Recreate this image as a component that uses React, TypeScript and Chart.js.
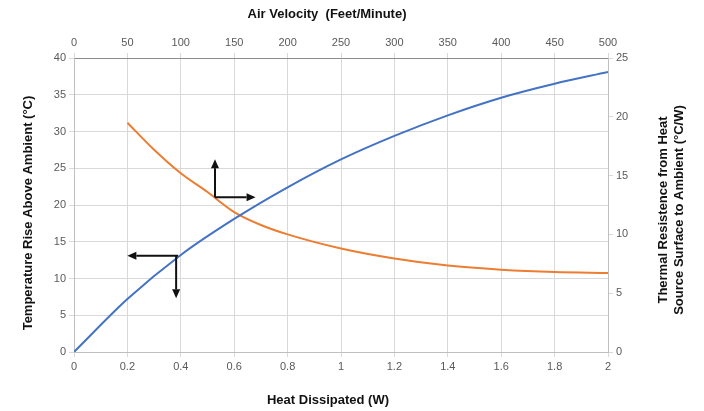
import React, { useEffect, useRef } from "react";
import { Chart, registerables } from "chart.js";

Chart.register(...registerables);

// Heat dissipated (W) vs temperature rise (°C) — bottom/left axes
const heatW = [0, 0.2, 0.4, 0.6, 0.8, 1.0, 1.2, 1.4, 1.6, 1.8, 2.0];
const tempRise = [0, 7.2, 13.2, 18.1, 22.4, 26.2, 29.4, 32.2, 34.6, 36.5, 38.1];

// Air velocity (ft/min) vs thermal resistance (°C/W) — top/right axes
const airVel = [50, 75, 100, 125, 150, 175, 200, 250, 300, 350, 400, 450, 500];
const thermalRes = [19.5, 17.2, 15.2, 13.6, 11.9, 10.8, 10.0, 8.8, 7.95, 7.35, 7.0, 6.8, 6.72];

const bottomTitle = "Heat Dissipated (W)";
const topTitle = "Air Velocity  (Feet/Minute)";
const leftTitle = "Temperature Rise Above Ambient (°C)";
const rightTitle = ["Thermal Resistence from Heat", "Source Surface to Ambient (°C/W)"];

// Annotation arrows: corner point and tips, in data coordinates
const arrowLeftCorner = [0.39, 13.1];
const arrowLeftTipX = 0.2;
const arrowLeftTipY = 7.3;
const arrowRightCorner = [132, 13.15];
const arrowRightTipX = 170;
const arrowRightTipY = 16.4;

const tickFont = { family: "'Liberation Sans', Arial, sans-serif", size: 11 };
const tickColor = "#595959";
const gridColor = "#d9d9d9";

function drawArrow(ctx: CanvasRenderingContext2D, x1: number, y1: number, x2: number, y2: number) {
  const ang = Math.atan2(y2 - y1, x2 - x1);
  const head = 9;
  const hw = 4;
  const bx = x2 - head * Math.cos(ang);
  const by = y2 - head * Math.sin(ang);
  ctx.beginPath();
  ctx.moveTo(x1, y1);
  ctx.lineTo(bx, by);
  ctx.stroke();
  ctx.beginPath();
  ctx.moveTo(x2, y2);
  ctx.lineTo(bx + hw * Math.sin(ang), by - hw * Math.cos(ang));
  ctx.lineTo(bx - hw * Math.sin(ang), by + hw * Math.cos(ang));
  ctx.closePath();
  ctx.fill();
}

const overlayPlugin = {
  id: "overlay",
  afterDatasetsDraw(chart: any) {
    const ctx = chart.ctx as CanvasRenderingContext2D;
    const { x, y, x2, y2 } = chart.scales;
    ctx.save();
    ctx.strokeStyle = "#111";
    ctx.fillStyle = "#111";
    ctx.lineWidth = 2;
    const cx1 = x.getPixelForValue(arrowLeftCorner[0]);
    const cy1 = y.getPixelForValue(arrowLeftCorner[1]);
    drawArrow(ctx, cx1, cy1, x.getPixelForValue(arrowLeftTipX), cy1);
    drawArrow(ctx, cx1 - 2, cy1, cx1 - 2, y.getPixelForValue(arrowLeftTipY));
    const cx2 = x2.getPixelForValue(arrowRightCorner[0]);
    const cy2 = y2.getPixelForValue(arrowRightCorner[1]);
    drawArrow(ctx, cx2, cy2, x2.getPixelForValue(arrowRightTipX), cy2);
    drawArrow(ctx, cx2, cy2, cx2, y2.getPixelForValue(arrowRightTipY));
    ctx.restore();
  },
  afterDraw(chart: any) {
    const ctx = chart.ctx as CanvasRenderingContext2D;
    ctx.save();
    ctx.fillStyle = "#111";
    ctx.font = "bold 13px 'Liberation Sans', Arial, sans-serif";
    ctx.textAlign = "center";
    ctx.textBaseline = "middle";
    ctx.fillText(topTitle, 327, 14);
    ctx.fillText(bottomTitle, 328, 400);
    ctx.save();
    ctx.translate(28, 213);
    ctx.rotate(-Math.PI / 2);
    ctx.fillText(leftTitle, 0, 0);
    ctx.restore();
    ctx.save();
    ctx.translate(671, 210);
    ctx.rotate(-Math.PI / 2);
    ctx.fillText(rightTitle[0], 0, -8);
    ctx.fillText(rightTitle[1], 0, 8);
    ctx.restore();
    ctx.restore();
  },
};

export default function App() {
  const ref = useRef<HTMLCanvasElement>(null);
  useEffect(() => {
    if (!ref.current) return;
    const chart = new Chart(ref.current, {
      type: "line",
      data: {
        datasets: [
          {
            data: heatW.map((v, i) => ({ x: v, y: tempRise[i] })),
            borderColor: "#4472C4",
            borderWidth: 2,
            pointRadius: 0,
            cubicInterpolationMode: "monotone",
            xAxisID: "x",
            yAxisID: "y",
          },
          {
            data: airVel.map((v, i) => ({ x: v, y: thermalRes[i] })),
            borderColor: "#ED7D31",
            borderWidth: 2,
            pointRadius: 0,
            cubicInterpolationMode: "monotone",
            xAxisID: "x2",
            yAxisID: "y2",
          },
        ],
      },
      options: {
        animation: false,
        responsive: true,
        maintainAspectRatio: false,
        layout: { padding: 0 },
        plugins: { legend: { display: false }, tooltip: { enabled: false } },
        scales: {
          x: {
            type: "linear",
            position: "bottom",
            min: 0,
            max: 2,
            ticks: {
              stepSize: 0.2,
              font: tickFont,
              color: tickColor,
              maxRotation: 0,
              callback: (v: any) => String(Math.round(Number(v) * 10) / 10),
            },
            grid: { color: gridColor, tickLength: 5 },
            border: { color: "#bfbfbf" },
            afterFit: (s: any) => { s.height = 59; },
          },
          x2: {
            type: "linear",
            position: "top",
            min: 0,
            max: 500,
            ticks: { stepSize: 50, font: tickFont, color: tickColor, maxRotation: 0 },
            grid: { drawOnChartArea: false, color: gridColor, tickLength: 5 },
            border: { color: "#8c8c8c" },
            afterFit: (s: any) => { s.height = 58; },
          },
          y: {
            type: "linear",
            position: "left",
            min: 0,
            max: 40,
            ticks: { stepSize: 5, font: tickFont, color: tickColor },
            grid: { color: gridColor, tickLength: 5 },
            border: { color: "#bfbfbf" },
            afterFit: (s: any) => { s.width = 74; },
          },
          y2: {
            type: "linear",
            position: "right",
            min: 0,
            max: 25,
            ticks: { stepSize: 5, font: tickFont, color: tickColor },
            grid: { drawOnChartArea: false, color: gridColor, tickLength: 5 },
            border: { color: "#bfbfbf" },
            afterFit: (s: any) => { s.width = 96; },
          },
        },
      },
      plugins: [overlayPlugin],
    } as any);
    return () => chart.destroy();
  }, []);
  return (
    <div style={{ position: "fixed", left: 0, top: 0, width: 704, height: 411, background: "#fff" }}>
      <canvas ref={ref} />
    </div>
  );
}
